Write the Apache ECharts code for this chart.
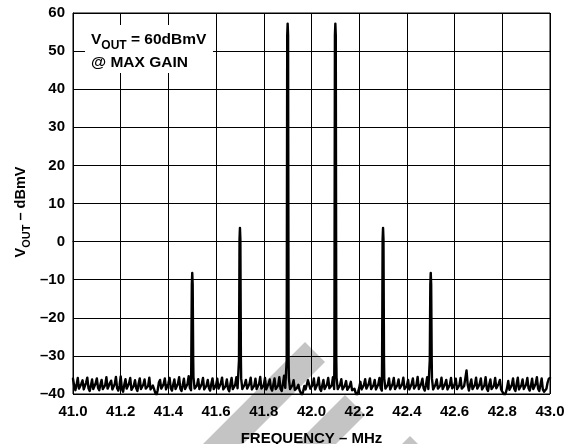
<!DOCTYPE html>
<html>
<head>
<meta charset="utf-8">
<script src="https://cdn.jsdelivr.net/npm/echarts@6/dist/echarts.min.js"></script>
<style>
    html, body { margin: 0; padding: 0; background: #fff; }
    #chart { width: 578px; height: 444px; }
</style>
</head>
<body>
<div id="chart"></div>
<script>
    // spectrum trace (dBmV), one point every 5 kHz from 41.000 MHz
    var noiseStart = 41.0;
    var noiseStep = 0.005;
    var noiseLevels = [
        -36.0, -37.9, -39.0, -37.6, -35.8, -38.6, -39.1, -37.3, -36.4, -38.8, -39.0, -37.0, -35.7, -38.5, -39.2, -37.8, -36.2, -38.7, -39.0, -37.2,
        -35.9, -38.4, -39.0, -37.5, -36.3, -38.7, -39.2, -37.7, -35.6, -38.6, -39.0, -37.1, -36.5, -38.8, -39.0, -37.4, -35.5, -38.5, -39.1, -37.9,
        -35.4, -38.7, -39.4, -37.6, -36.1, -38.6, -39.0, -37.2, -35.8, -38.9, -38.9, -37.8, -36.4, -38.5, -39.2, -37.3, -35.9, -38.7, -39.0, -37.5,
        -36.2, -38.6, -39.1, -37.9, -35.7, -38.8, -39.3, -37.8, -38.7, -39.7, -40.3, -39.0, -37.0, -36.3, -38.6, -39.0, -37.4, -35.9, -38.8, -39.1,
        -37.2, -35.8, -38.5, -39.1, -37.6, -36.2, -38.7, -39.0, -37.3, -35.6, -38.6, -39.2, -37.7, -36.0, -38.7, -39.1, -37.4, -35.3, -38.4, -39.0,
        -37.0, -35.6, -38.6, -39.1, -37.7, -36.1, -38.7, -39.2, -37.4, -35.8, -38.8, -39.0, -37.8, -36.3, -38.5, -39.1, -37.3, -35.9, -38.7, -39.2,
        -37.6, -36.0, -38.6, -39.0, -37.2, -35.7, -38.8, -39.1, -37.9, -36.2, -38.6, -39.3, -37.4, -35.8, -38.7, -39.1, -37.6, -35.6, -38.5, -39.0,
        -37.0, -35.9, -38.7, -39.1, -37.5, -36.3, -38.6, -39.0, -37.3, -35.7, -38.8, -39.2, -37.8, -36.0, -38.7, -39.1, -37.4, -35.5, -38.6, -39.0,
        -37.7, -35.8, -38.8, -39.2, -37.3, -36.2, -38.5, -39.1, -37.5, -35.9, -38.7, -39.0, -37.8, -35.6, -38.6, -39.2, -37.4, -35.2, -38.4, -38.9,
        -37.0, -35.8, -38.7, -39.1, -37.7, -36.4, -38.9, -39.4, -38.3, -37.6, -39.0, -39.7, -40.3, -39.3, -37.9, -38.8, -39.1, -36.4, -35.9, -38.6,
        -39.1, -37.6, -35.9, -38.8, -39.0, -37.4, -35.7, -38.6, -39.2, -37.8, -36.3, -38.7, -39.1, -37.5, -35.8, -38.5, -39.0, -37.7, -35.6, -38.7,
        -37.0, -35.7, -38.7, -39.1, -37.6, -36.1, -38.8, -39.2, -37.8, -36.6, -38.9, -39.3, -37.9, -36.8, -39.0, -39.5, -38.6, -39.7, -40.4, -39.5,
        -38.4, -36.8, -38.8, -39.1, -37.6, -36.1, -38.6, -39.1, -37.3, -35.9, -38.7, -39.0, -37.7, -36.3, -38.8, -39.2, -37.5, -35.8, -38.5, -39.1,
        -37.0, -36.0, -38.6, -39.0, -37.6, -35.9, -38.8, -39.2, -37.4, -35.8, -38.7, -39.1, -37.7, -36.2, -38.5, -39.0, -37.5, -35.7, -38.7, -39.1,
        -37.8, -36.3, -38.8, -39.2, -37.4, -35.9, -38.6, -39.1, -37.6, -35.5, -38.7, -39.0, -37.3, -36.0, -38.5, -39.1, -37.7, -35.6, -38.7, -39.2,
        -37.0, -35.9, -38.8, -39.1, -37.5, -36.2, -38.6, -39.0, -37.8, -35.7, -38.7, -39.2, -37.4, -36.3, -38.8, -39.1, -37.6, -35.8, -38.5, -39.0,
        -37.5, -36.0, -38.7, -39.1, -37.7, -35.8, -38.6, -39.0, -37.9, -35.9, -33.8, -37.6, -39.1, -37.5, -36.2, -38.7, -39.2, -37.6, -35.7, -38.6,
        -39.1, -37.4, -35.9, -38.8, -39.0, -37.7, -35.6, -38.6, -39.2, -37.5, -36.2, -38.7, -39.1, -37.8, -35.8, -38.5, -39.0, -37.3, -36.3, -38.8,
        -39.4, -39.9, -40.4, -39.6, -38.4, -36.6, -38.9, -39.1, -37.6, -35.9, -38.6, -39.2, -37.4, -35.7, -38.8, -39.0, -37.7, -36.2, -38.7, -39.1,
        -37.5, -35.8, -38.5, -39.1, -37.8, -36.0, -38.7, -39.0, -37.3, -35.6, -38.6, -39.2, -37.6, -35.9, -38.8, -39.4, -39.8, -38.6, -37.0, -36.0,
        -35.8
    ];

    // carriers
    var carrierFreqs = [41.5, 41.7, 41.9, 42.1, 42.3, 42.5];
    var carrierLevels = [-8.2, 3.6, 57.2, 57.2, 3.6, -8.2];

    var freqMin = 41.0, freqMax = 43.0, freqStep = 0.2;
    var levelMin = -40, levelMax = 60, levelStep = 10;

    var FONT = '"Liberation Sans", Arial, Helvetica, sans-serif';
    var WATERMARK = '#c4c4c4';

    // merge noise and carrier spikes into one trace
    var traceData = [];
    noiseLevels.forEach(function (level, i) {
        var f = +(noiseStart + i * noiseStep).toFixed(3);
        var k = carrierFreqs.indexOf(f);
        if (k < 0) {
            traceData.push([f, level]);
            return;
        }
        var top = carrierLevels[k];
        traceData.push([f - 0.004, -31], [f - 0.0018, top - 3], [f, top], [f + 0.0018, top - 3], [f + 0.004, -31]);
    });

    var chart = echarts.init(document.getElementById('chart'));

    function subRich(size, subSize, lh) {
        return {
            v: { fontFamily: FONT, fontWeight: 'bold', fontSize: size, lineHeight: lh, verticalAlign: 'middle', fill: '#000' },
            s: { fontFamily: FONT, fontWeight: 'bold', fontSize: subSize, lineHeight: lh, verticalAlign: 'bottom', fill: '#000' }
        };
    }

    var option = {
        animation: false,
        backgroundColor: '#fff',
        grid: {
            left: 73,
            right: 28,
            top: 13,
            bottom: 50,
            show: true,
            borderColor: '#000',
            borderWidth: 1,
            outerBoundsMode: 'none'
        },
        xAxis: {
            type: 'value',
            min: freqMin,
            max: freqMax,
            interval: freqStep,
            name: 'FREQUENCY \u2013 MHz',
            nameLocation: 'middle',
            nameGap: 37,
            nameTextStyle: { fontFamily: FONT, fontWeight: 'bold', fontSize: 15, color: '#000' },
            axisLine: { lineStyle: { color: '#000', width: 1 } },
            axisTick: { show: false },
            axisLabel: {
                margin: 10,
                fontFamily: FONT,
                fontWeight: 'bold',
                fontSize: 15,
                color: '#000',
                formatter: function (v) { return v.toFixed(1); }
            },
            splitLine: { show: true, lineStyle: { color: '#000', width: 1 } }
        },
        yAxis: {
            type: 'value',
            min: levelMin,
            max: levelMax,
            interval: levelStep,
            axisLine: { show: true, lineStyle: { color: '#000', width: 1 } },
            axisTick: { show: false },
            axisLabel: {
                margin: 8,
                fontFamily: FONT,
                fontWeight: 'bold',
                fontSize: 15,
                color: '#000',
                formatter: function (v) { return String(v).replace('-', '\u2013'); }
            },
            splitLine: { show: true, lineStyle: { color: '#000', width: 1 } }
        },
        graphic: [
            // watermark, behind everything
            {
                type: 'polygon', z: -1, silent: true,
                shape: { points: [[305, 342], [325, 362], [243, 444], [203, 444]] },
                style: { fill: WATERMARK }
            },
            {
                type: 'polygon', z: -1, silent: true,
                shape: { points: [[345, 395], [365, 415], [336, 444], [296, 444]] },
                style: { fill: WATERMARK }
            },
            {
                type: 'polygon', z: -1, silent: true,
                shape: { points: [[410, 436], [418, 444], [402, 444]] },
                style: { fill: WATERMARK }
            },
            // annotation box
            {
                type: 'rect', z: 10, silent: true,
                shape: { x: 85, y: 25, width: 128, height: 48 },
                style: { fill: '#fff' }
            },
            {
                type: 'text', z: 11, silent: true,
                x: 91, y: 27.6,
                style: {
                    text: '{v|V}{s|OUT}{v| = 60dBmV}',
                    verticalAlign: 'top',
                    rich: subRich(15.5, 12, 24)
                }
            },
            {
                type: 'text', z: 11, silent: true,
                x: 91, y: 62.6,
                style: {
                    text: '@ MAX GAIN',
                    verticalAlign: 'middle',
                    fontFamily: FONT, fontWeight: 'bold', fontSize: 15.5, fill: '#000'
                }
            },
            // y axis title
            {
                type: 'text', z: 11, silent: true,
                x: 21, y: 212,
                rotation: Math.PI / 2,
                style: {
                    text: '{v|V}{s|OUT}{v| \u2013 dBmV}',
                    align: 'center',
                    verticalAlign: 'middle',
                    rich: subRich(14.5, 11, 22)
                }
            }
        ],
        series: [
            {
                type: 'line',
                data: traceData,
                showSymbol: false,
                z: 5,
                lineStyle: { color: '#000', width: 2.4, cap: 'round', join: 'round' }
            }
        ]
    };

    chart.setOption(option);
</script>
</body>
</html>
